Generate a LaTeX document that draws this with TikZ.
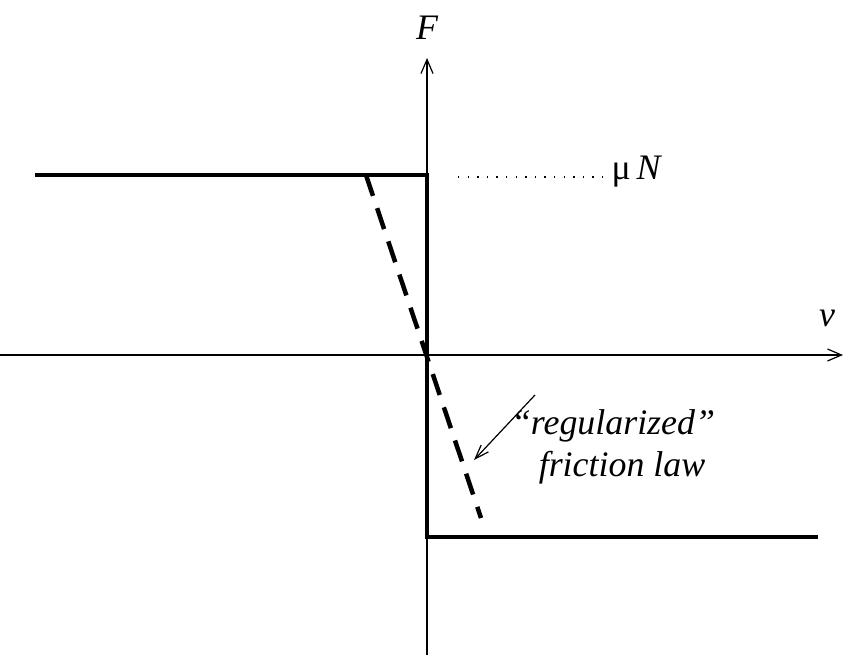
\documentclass[tikz,border=0pt]{standalone}
\usepackage{fontspec}
\setmainfont{Liberation Serif}
\usetikzlibrary{arrows.meta}
\begin{document}
\begin{tikzpicture}[x=1bp,y=-1bp,
  axis/.style={line width=1.2bp,-{Straight Barb[length=14bp,width=12bp]}},
  law/.style={line width=4.5bp},
  lbl/.style={font=\fontsize{36}{40}\selectfont\itshape}]
\useasboundingbox (0,0) rectangle (855,666);
\coordinate (xl) at (0,355); \coordinate (xr) at (843,355);
\coordinate (yb) at (427,655); \coordinate (yt) at (427,58);
\draw[axis] (xl) -- (xr);
\draw[axis] (yb) -- (yt);
\node[lbl] (v) at (827,318) {v};
\node[lbl] (F) at (427,28) {F};
\coordinate (a) at (35,175); \coordinate (b) at (427,175);
\coordinate (c) at (427,537); \coordinate (d) at (818,537);
\draw[law] (a) -- (b) -- (c) -- (d);
\coordinate (e) at (366,175); \coordinate (f) at (481,518);
\draw[law,dash pattern=on 22bp off 13bp] (e) -- (f);
\coordinate (g) at (458,177); \coordinate (h) at (604,177);
\draw[line width=1.4bp,dash pattern=on 1.4bp off 8.2bp] (g) -- (h);
\node[font=\fontsize{36}{40}\selectfont,anchor=west] (mu) at (608,172) {μ\,\textit{N}};
\node[lbl,anchor=center] (t1) at (613,426) {“regularized”};
\node[lbl,anchor=center] (t2) at (622,468) {friction law};
\coordinate (p) at (535,395); \coordinate (q) at (474,460);
\draw[line width=1.2bp,-{Straight Barb[length=14bp,width=10bp]}] (p) -- (q);
\end{tikzpicture}
\end{document}
